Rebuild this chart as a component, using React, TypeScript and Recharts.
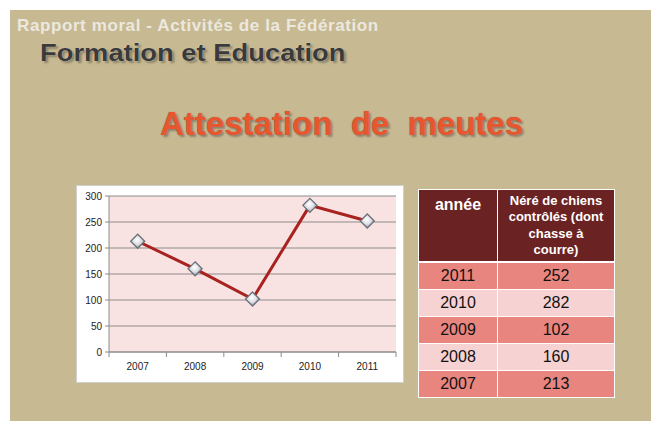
import { LineChart, Line, XAxis, YAxis, CartesianGrid } from 'recharts';

const years = ['2007', '2008', '2009', '2010', '2011'];
const dogCounts = [213, 160, 102, 282, 252];
const yTicks = [0, 50, 100, 150, 200, 250, 300];
const headerLines = ['Néré de chiens', 'contrôlés (dont', 'chasse à', 'courre)'];

const chartData = years.map((year, i) => ({ year, count: dogCounts[i] }));
const tableRows = years.map((year, i) => ({ year, count: dogCounts[i] })).reverse();

const CHART_W = 326;
const CHART_H = 196;
const MARGIN = { top: 10, right: 7, left: 0, bottom: 0 };
const Y_AXIS_W = 32;
const X_AXIS_H = 30;
const HALF_STEP = (CHART_W - Y_AXIS_W - MARGIN.right) / years.length / 2;

const font = '"Liberation Sans", Arial, sans-serif';

function YearTick(props: any) {
    const { x, y, payload, index } = props;
    const axisY = y - 11;
    return (
        <g>
            <line x1={x - HALF_STEP} y1={axisY} x2={x - HALF_STEP} y2={axisY + 5} stroke="#8c8c8c" />
            {index === years.length - 1 && (
                <line x1={x + HALF_STEP} y1={axisY} x2={x + HALF_STEP} y2={axisY + 5} stroke="#8c8c8c" />
            )}
            <text x={x} y={y} dy="0.71em" textAnchor="middle" fontSize={10} fill="#222" fontFamily={font}>
                {payload.value}
            </text>
        </g>
    );
}

function DiamondDot(props: any) {
    const { cx, cy } = props;
    if (cx == null || cy == null) return null;
    const r = 7;
    return (
        <polygon
            points={`${cx},${cy - r} ${cx + r},${cy} ${cx},${cy + r} ${cx - r},${cy}`}
            fill="url(#dotFill)"
            stroke="#6a7078"
            strokeWidth={1.3}
        />
    );
}

export default function App() {
    return (
        <div style={{ position: 'absolute', left: 0, top: 0, width: 651, height: 421, background: '#fff', fontFamily: font }}>
            <div style={{ position: 'absolute', left: 10, top: 10, width: 641, height: 411, background: '#c7b992' }} />

            <div style={{ position: 'absolute', left: 17, top: 16, fontSize: 17, fontWeight: 700, color: '#ece8df', whiteSpace: 'nowrap', letterSpacing: 0.6 }}>
                Rapport moral - Activités de la Fédération
            </div>
            <div style={{
                position: 'absolute', left: 40, top: 39, fontSize: 24, fontWeight: 700, color: '#3a3a3a', whiteSpace: 'nowrap',
                transform: 'scaleX(1.14)', transformOrigin: 'left center',
                textShadow: '0 0 1px #e8e2d0, 2px 2px 2px #8a8068'
            }}>
                Formation et Education
            </div>
            <div style={{
                position: 'absolute', left: 160, top: 105, fontSize: 33, fontWeight: 700, color: '#e8562e', whiteSpace: 'nowrap',
                textShadow: '0 0 1px #8a6a60, 2px 2px 2px #8f8470'
            }}>
                Attestation&nbsp; de&nbsp; meutes
            </div>

            <div style={{ position: 'absolute', left: 76, top: 185, width: 328, height: 198, background: '#fff', border: '1px solid #cfcfcf', boxSizing: 'border-box' }}>
                <LineChart width={CHART_W} height={CHART_H} data={chartData} margin={MARGIN}>
                    <defs>
                        <radialGradient id="dotFill" cx="45%" cy="40%" r="60%">
                            <stop offset="0%" stopColor="#ffffff" />
                            <stop offset="55%" stopColor="#dcdfe4" />
                            <stop offset="100%" stopColor="#8f96a0" />
                        </radialGradient>
                    </defs>
                    <CartesianGrid vertical={false} stroke="#8c8c8c" fill="#f9e3e2" fillOpacity={1} />
                    <XAxis
                        dataKey="year"
                        height={X_AXIS_H}
                        padding={{ left: HALF_STEP, right: HALF_STEP }}
                        tickLine={false}
                        tickSize={5}
                        tickMargin={6}
                        stroke="#8c8c8c"
                        tick={<YearTick />}
                        interval={0}
                    />
                    <YAxis
                        width={Y_AXIS_W}
                        domain={[0, 300]}
                        ticks={yTicks}
                        interval={0}
                        tickSize={4}
                        tickMargin={3}
                        stroke="#8c8c8c"
                        tick={{ fontSize: 10, fill: '#222', fontFamily: font }}
                    />
                    <Line
                        dataKey="count"
                        stroke="#a8221f"
                        strokeWidth={3}
                        dot={<DiamondDot />}
                        activeDot={false}
                        isAnimationActive={false}
                    />
                </LineChart>
            </div>

            <table style={{
                position: 'absolute', left: 418, top: 189, width: 197, borderCollapse: 'separate', borderSpacing: 0,
                fontFamily: font, tableLayout: 'fixed'
            }}>
                <colgroup>
                    <col style={{ width: 80 }} />
                    <col style={{ width: 117 }} />
                </colgroup>
                <thead>
                    <tr style={{ height: 74 }}>
                        <th style={{
                            background: '#6b2222', color: '#fff', fontSize: 16, fontWeight: 700, verticalAlign: 'top',
                            padding: '6px 0 0 0', border: '1px solid #fff', borderBottom: '2px solid #fff'
                        }}>année</th>
                        <th style={{
                            background: '#6b2222', color: '#fff', fontSize: 13, fontWeight: 700, lineHeight: '16.5px',
                            padding: '2px 2px 2px 2px', border: '1px solid #fff', borderLeft: 'none', borderBottom: '2px solid #fff',
                            whiteSpace: 'nowrap'
                        }}>
                            {headerLines.map((line, i) => (
                                <div key={i}>{line}</div>
                            ))}
                        </th>
                    </tr>
                </thead>
                <tbody>
                    {tableRows.map((row, i) => {
                        const bg = i % 2 === 0 ? '#e9857f' : '#f6d3d2';
                        return (
                            <tr key={row.year} style={{ height: 27 }}>
                                <td style={{ background: bg, textAlign: 'center', fontSize: 16, color: '#111', padding: 0, border: '1px solid #fff', borderTop: 'none' }}>{row.year}</td>
                                <td style={{ background: bg, textAlign: 'center', fontSize: 16, color: '#111', padding: 0, border: '1px solid #fff', borderTop: 'none', borderLeft: 'none' }}>{row.count}</td>
                            </tr>
                        );
                    })}
                </tbody>
            </table>
        </div>
    );
}
